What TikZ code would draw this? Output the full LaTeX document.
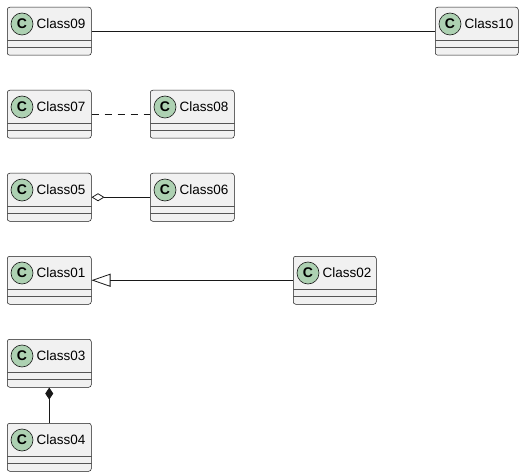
\documentclass[tikz,border=0pt]{standalone}
\usepackage{fontspec}
\setmainfont{Liberation Sans}
\usetikzlibrary{arrows.meta,calc}
\definecolor{boxfill}{HTML}{F1F1F1}
\definecolor{boxline}{HTML}{181818}
\definecolor{sepcol}{HTML}{555555}
\definecolor{circfill}{HTML}{ADD1B2}
\tikzset{
  clsbox/.style={draw=boxline, fill=boxfill, line width=0.5pt, rounded corners=2.5pt,
    minimum height=48pt, inner sep=0pt, anchor=north west},
  sepline/.style={draw=sepcol, line width=0.5pt},
  circ/.style={circle, draw=boxline, fill=circfill, line width=0.6pt, minimum size=22pt, inner sep=0pt,
    font=\fontsize{14}{16}\selectfont\bfseries},
  clstext/.style={anchor=west, inner sep=0pt, font=\fontsize{13.5}{16}\selectfont},
  conn/.style={draw=boxline, line width=0.8pt},
}
\newcommand\umlclass[5]{%
  \node[clsbox, minimum width=#4pt] (#1) at (#2,#3) {};
  \draw[sepline] ($(#1.north west)+(0,33)$) -- ($(#1.north east)+(0,33)$);
  \draw[sepline] ($(#1.north west)+(0,40.5)$) -- ($(#1.north east)+(0,40.5)$);
  \node[circ] (#1c) at ($(#1.north west)+(15,17)$) {C};
  \node[clstext] (#1t) at ($(#1.north west)+(29.5,17)$) {#5};
}
\begin{document}
\begin{tikzpicture}[x=1pt,y=-1pt]
\useasboundingbox (0,0) rectangle (525,476);
\umlclass{c09}{7}{7}{84}{Class09}
\umlclass{c10}{435}{7}{83}{Class10}
\umlclass{c07}{7}{90}{84}{Class07}
\umlclass{c08}{150}{90}{84}{Class08}
\umlclass{c05}{7}{173}{84}{Class05}
\umlclass{c06}{150}{173}{84}{Class06}
\umlclass{c01}{7}{256}{84}{Class01}
\umlclass{c02}{293}{256}{83}{Class02}
\umlclass{c03}{7}{339}{84}{Class03}
\umlclass{c04}{7}{423}{84}{Class04}
\draw[conn] (c09.east) -- (c10.west);
\draw[conn, dash pattern=on 7pt off 6pt] (c07.east) -- (c08.west);
\draw[conn, {Diamond[open, length=13pt, width=8pt, line width=0.8pt]}-] (c05.east) -- (c06.west);
\draw[conn, {Triangle[open, length=19pt, width=13pt, line width=0.8pt]}-] (c01.east) -- (c02.west);
\draw[conn, {Diamond[length=12pt, width=8pt]}-] (c03.south) -- (c04.north);
\end{tikzpicture}
\end{document}
